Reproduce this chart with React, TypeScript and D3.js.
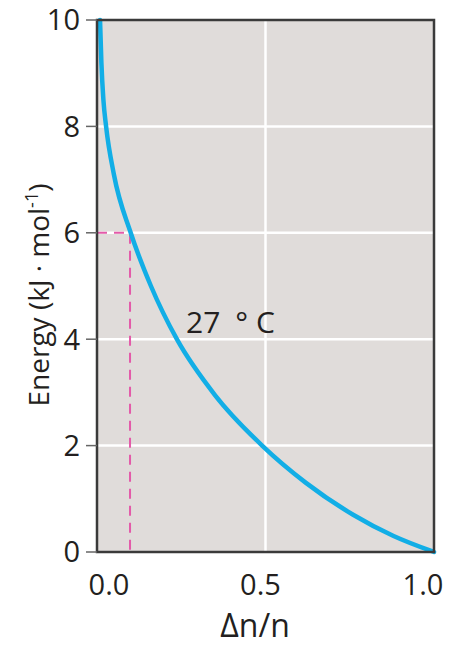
import React from "react";
import * as d3 from "d3";

const curveX = [0.009, 0.013, 0.019, 0.027, 0.05, 0.1, 0.16, 0.237, 0.35, 0.49, 0.62, 0.76, 0.88, 1.0];
const curveE = [10, 9.2, 8.5, 8, 7.1, 6, 5.0, 4, 2.95, 2, 1.3, 0.7, 0.3, 0];
const yTicks = [0, 2, 4, 6, 8, 10];
const xTicks = [0, 0.5, 1.0];
const xTickLabels = ["0.0", "0.5", "1.0"];
const markerX = [0.098];
const markerE = [6];
const curveLabel = "27\u2002° C";

const W = 452;
const H = 648;
const M = { left: 97, right: 434, top: 20, bottom: 552 };
const FONT = "'Open Sans', 'Noto Sans', sans-serif";
const xLabelShift = [12, -5, -11];

export default function App() {
  const x = d3.scaleLinear().domain([0, 1]).range([M.left, M.right]);
  const y = d3.scaleLinear().domain([0, 10]).range([M.bottom, M.top]);
  const pts: [number, number][] = curveX.map((v, i) => [v, curveE[i]]);
  const line = d3
    .line<[number, number]>()
    .x((d) => x(d[0]))
    .y((d) => y(d[1]))
    .curve(d3.curveMonotoneX);
  const mx = markerX[0];
  const me = markerE[0];
  return (
    <svg
      width={W}
      height={H}
      style={{ position: "absolute", left: 0, top: 0, background: "#fff" }}
      fontFamily={FONT}
    >
      <rect x={M.left} y={M.top} width={M.right - M.left} height={M.bottom - M.top} fill="#e0dcda" />
      {yTicks
        .filter((t) => t > 0 && t < 10)
        .map((t) => (
          <line key={"gy" + t} x1={M.left} x2={M.right} y1={y(t)} y2={y(t)} stroke="#fff" strokeWidth={2.5} />
        ))}
      {xTicks
        .filter((t) => t > 0 && t < 1)
        .map((t) => (
          <line key={"gx" + t} x1={x(t)} x2={x(t)} y1={M.top} y2={M.bottom} stroke="#fff" strokeWidth={2.5} />
        ))}
      <path
        d={`M${x(0)},${y(me)}H${x(mx)}V${y(0)}`}
        fill="none"
        stroke="#e35aa9"
        strokeWidth={2}
        strokeDasharray="10,7"
      />
      <path d={line(pts) || ""} fill="none" stroke="#12aee6" strokeWidth={4.5} strokeLinecap="round" />
      <rect
        x={M.left}
        y={M.top}
        width={M.right - M.left}
        height={M.bottom - M.top}
        fill="none"
        stroke="#3a3a3a"
        strokeWidth={2.5}
      />
      {yTicks.map((t) => (
        <g key={"yt" + t}>
          <line x1={M.left - 11} x2={M.left} y1={y(t)} y2={y(t)} stroke="#666" strokeWidth={1.5} />
          <text x={80} y={y(t)} dy="0.36em" textAnchor="end" fontSize={29} fill="#231f20">
            {t}
          </text>
        </g>
      ))}
      {xTicks.map((t, i) => (
        <text
          key={"xt" + t}
          x={x(t) + xLabelShift[i]}
          y={595}
          textAnchor="middle"
          fontSize={29}
          fill="#231f20"
        >
          {xTickLabels[i]}
        </text>
      ))}
      <text x={255} y={637} textAnchor="middle" fontSize={32} fill="#231f20">
        Δn/n
      </text>
      <text
        transform={`translate(49,${295}) rotate(-90)`}
        textAnchor="middle"
        fontSize={28}
        fill="#231f20"
      >
        Energy (kJ · mol
        <tspan dy={-11} fontSize={18}>
          -1
        </tspan>
        <tspan dy={11}>)</tspan>
      </text>
      <text x={186} y={333} fontSize={30} fill="#231f20">
        {curveLabel}
      </text>
    </svg>
  );
}
